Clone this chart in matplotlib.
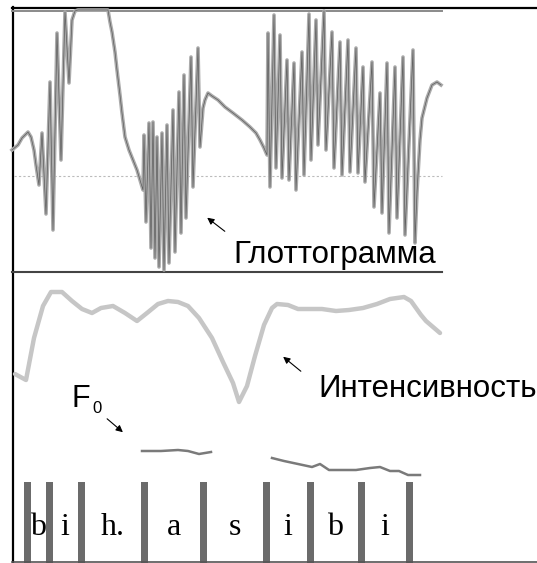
import numpy as np
import matplotlib.pyplot as plt

# glottogram: slow parts (time, level) and fast pulses (time, peak, trough)
glot_head = [(12, 150), (18, 145), (22, 138), (28, 132), (31, 137), (34, 150), (36, 165),
             (39, 185), (42, 133), (46, 214), (50, 82), (53, 230), (57, 33), (61, 160),
             (65, 12), (69, 83), (72, 20), (75, 11), (78, 10), (108, 10), (110, 22),
             (112, 32), (115, 52), (117, 70), (120, 95), (122, 113), (125, 137), (129, 150),
             (133, 160), (137, 170), (140, 180), (143, 190)]
pulses_a = [(144, 135, 222), (149, 123, 248), (153, 122, 258), (157, 137, 267),
            (162, 133, 270), (167, 125, 263), (173, 110, 252), (179, 92, 233),
            (184, 75, 218), (191, 57, 187), (198, 48, 147)]
glot_mid = [(203, 108), (205, 100), (208, 93), (212, 96), (218, 100), (225, 107),
            (233, 113), (242, 120), (250, 127), (256, 133), (260, 140), (264, 148), (267, 155)]
pulses_b = [(268, 33, 187), (274, 15, 168), (280, 35, 178), (287, 60, 180),
            (294, 63, 190), (302, 52, 175), (309, 14, 160), (316, 20, 145),
            (324, 11, 150), (332, 32, 168), (340, 42, 175), (348, 40, 172),
            (356, 48, 173), (363, 67, 182), (372, 62, 207), (380, 93, 213),
            (387, 63, 233), (395, 67, 218), (403, 57, 235), (413, 50, 243)]
glot_tail = [(417, 192), (420, 140), (422, 118), (427, 98), (432, 85), (437, 82), (441, 85)]

# intensity contour
int_t = [15, 26, 34, 43, 51, 62, 72, 82, 92, 101, 113, 125, 137, 147, 158, 168, 178,
         188, 199, 212, 223, 233, 239, 247, 255, 264, 272, 277, 288, 298, 310, 322,
         336, 349, 363, 377, 390, 404, 411, 421, 426, 433, 440]
int_v = [374, 380, 338, 306, 292, 292, 301, 309, 313, 308, 306, 313, 321, 313, 304,
         301, 302, 306, 318, 338, 362, 383, 402, 386, 356, 325, 308, 304, 305, 309,
         309, 309, 311, 310, 308, 304, 299, 297, 301, 315, 321, 327, 333]

# F0 contour, two voiced stretches
f0_t1 = [142, 161, 178, 188, 199, 211]
f0_v1 = [451, 451, 450, 451, 454, 452]
f0_t2 = [272, 284, 298, 312, 320, 329, 342, 356, 370, 380, 390, 399, 408, 420]
f0_v2 = [458, 461, 464, 467, 464, 470, 470, 470, 468, 467, 471, 471, 475, 475]

# segment boundaries and labels
bounds = [27, 49, 81, 144, 203, 266, 310, 361, 409]
segments = ['b', 'i', 'h.', 'a', 's', 'i', 'b', 'i']


def build_glottogram():
    pts = list(glot_head)
    for t, hi, lo in pulses_a:
        pts += [(t, hi), (t + 2, lo)]
    pts += glot_mid
    for t, hi, lo in pulses_b:
        pts += [(t, hi), (t + 2, lo)]
    pts += glot_tail
    arr = np.array(pts, dtype=float)
    return arr[:, 0], arr[:, 1]


fig = plt.figure(figsize=(5.37, 5.63), dpi=100)
ax = fig.add_axes([0, 0, 1, 1])
ax.set_xlim(0, 537)
ax.set_ylim(563, 0)
ax.axis('off')

# frame
ax.plot([13, 13], [7, 563], color='black', lw=1.6)
ax.plot([12, 537], [7.5, 7.5], color='black', lw=1.6)
ax.plot([12, 442], [10.5, 10.5], color='#8a8a8a', lw=1.4)
ax.plot([12, 442], [272, 272], color='#444444', lw=1.5)
ax.plot([12, 537], [562, 562], color='#555555', lw=1.2)
ax.plot([14, 442], [176, 176], color='#bbbbbb', lw=0.8, ls=(0, (2, 2)))

# glottogram
gx, gy = build_glottogram()
ax.plot(gx, gy, color='#ababab', lw=2.6, solid_joinstyle='round')
ax.plot(gx, gy, color='#1a1a1a', lw=0.5, alpha=0.55)

# intensity and F0
ax.plot(int_t, int_v, color='#c6c6c6', lw=3.2, solid_capstyle='round')
ax.plot(f0_t1, f0_v1, color='#7a7a7a', lw=1.8)
ax.plot(f0_t2, f0_v2, color='#7a7a7a', lw=1.8)

# segmentation
ax.bar(bounds, 81, bottom=482, width=7, color='#6b6b6b')
for left, right, lab in zip(bounds[:-1], bounds[1:], segments):
    ax.text((left + right) / 2, 535, lab, ha='center', va='baseline',
            fontsize=23, family='Liberation Serif')

# annotations
ax.text(233, 263, 'Глоттограмма', fontsize=22.5, family='Liberation Sans', va='baseline')
ax.text(318, 397, 'Интенсивность', fontsize=22.5, family='Liberation Sans', va='baseline')
ax.text(72, 407, 'F', fontsize=22, family='Liberation Sans', va='baseline')
ax.text(92, 413, '0', fontsize=12, family='Liberation Sans', va='baseline')
arrow = dict(arrowstyle='-|>', color='black', lw=0.8, mutation_scale=10)
ax.annotate('', xy=(205, 216), xytext=(227, 233), arrowprops=arrow)
ax.annotate('', xy=(281, 355), xytext=(303, 373), arrowprops=arrow)
ax.annotate('', xy=(125, 434), xytext=(105, 417), arrowprops=arrow)

fig.savefig('out.png', dpi=100)
